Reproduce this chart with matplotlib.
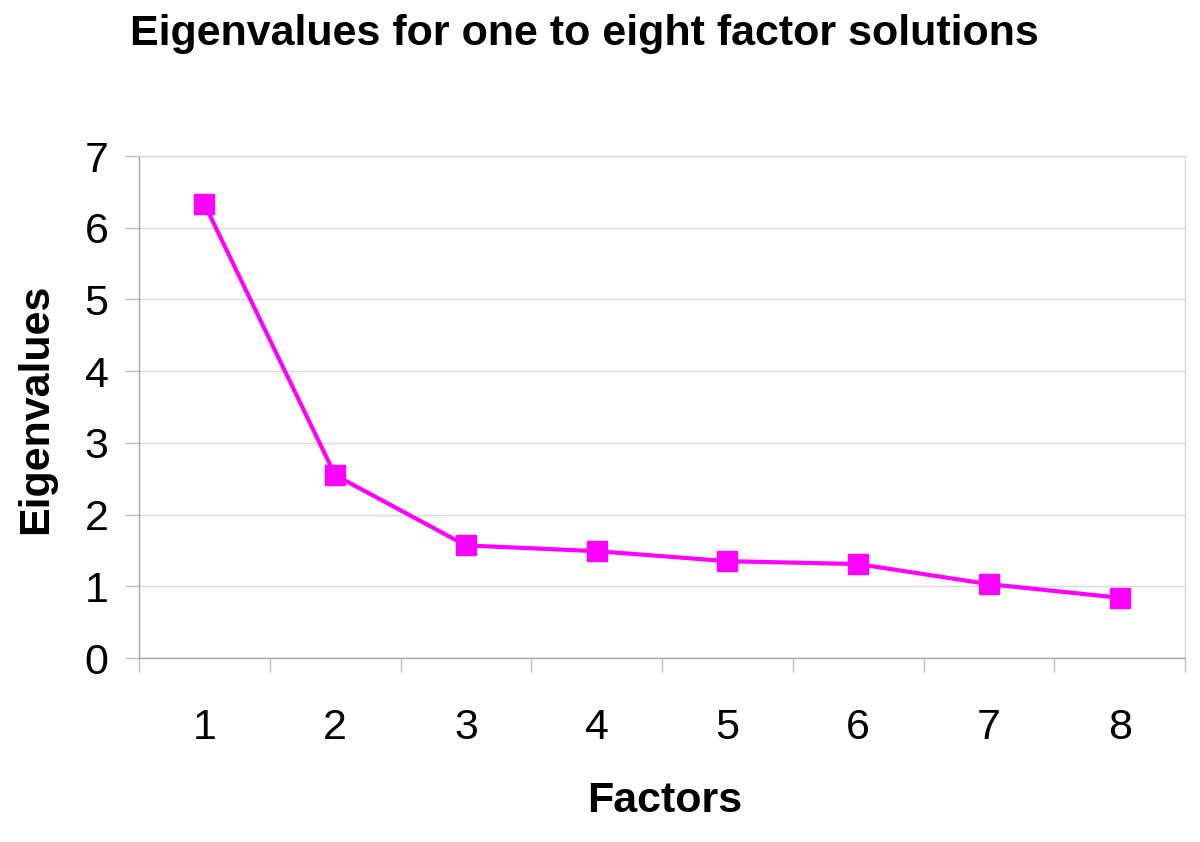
import matplotlib
matplotlib.use("Agg")
import matplotlib.pyplot as plt
from matplotlib.ticker import FixedLocator, NullFormatter

factors = [1, 2, 3, 4, 5, 6, 7, 8]
eigenvalues = [6.33, 2.55, 1.57, 1.49, 1.35, 1.31, 1.03, 0.84]
yticks = [0, 1, 2, 3, 4, 5, 6, 7]

plt.rcParams['font.family'] = ['Liberation Sans', 'DejaVu Sans']

W, H = 1200, 842
fig = plt.figure(figsize=(12, 8.42), dpi=100)
L, R, T, B = 139, 1185, 156, 658
ax = fig.add_axes([L/W, 1 - B/H, (R-L)/W, (B-T)/H])

ax.plot(factors, eigenvalues, color='#FF00FF', linewidth=3, marker='s',
        markersize=14, markerfacecolor='#FF00FF', markeredgecolor='#FF00FF', zorder=3)

ax.set_xlim(0.5, 8.5)
ax.set_ylim(0, 7)
ax.set_yticks(yticks)
ax.yaxis.grid(True, color='#d9d9d9', linewidth=1)
ax.set_axisbelow(True)

ax.set_xticks(factors)
ax.set_xticklabels([str(f) for f in factors])
ax.xaxis.set_minor_locator(FixedLocator([x + 0.5 for x in range(0, 9)]))
ax.xaxis.set_minor_formatter(NullFormatter())
ax.tick_params(axis='x', which='major', length=0, pad=36, labelsize=31)
ax.tick_params(axis='x', which='minor', length=10, width=1, color='#c0c0c0', direction='out')
ax.tick_params(axis='y', length=10, width=1, color='#c0c0c0', direction='out', pad=12, labelsize=31)

for side in ['left', 'bottom']:
    ax.spines[side].set_color('#a6a6a6')
    ax.spines[side].set_linewidth(1)
for side in ['right', 'top']:
    ax.spines[side].set_color('#d9d9d9')
    ax.spines[side].set_linewidth(1)

ax.set_xlabel('Factors', fontsize=31, fontweight='bold')
ax.xaxis.set_label_coords((665 - L) / (R - L), (B - 781) / (B - T))
ax.set_ylabel('Eigenvalues', fontsize=31, fontweight='bold')
ax.yaxis.set_label_coords((56 - L) / (R - L), (B - 409) / (B - T))

fig.text(130/W, 1 - 45/H, 'Eigenvalues for one to eight factor solutions',
         fontsize=31, fontweight='bold', ha='left', va='baseline')

fig.savefig('out.png', dpi=100)
